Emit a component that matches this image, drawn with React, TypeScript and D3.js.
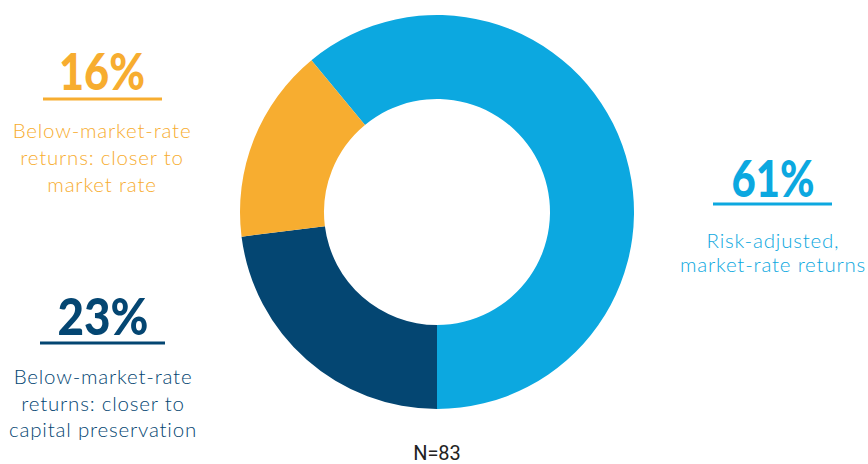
import React from "react";
import * as d3 from "d3";

const categories = [
  "Risk-adjusted, market-rate returns",
  "Below-market-rate returns: closer to capital preservation",
  "Below-market-rate returns: closer to market rate",
];
const values = [61, 23, 16];
const colors = ["#0CA8E0", "#044672", "#F7AD30"];
const pctLabels = ["61%", "23%", "16%"];
const descLines = [
  ["Risk-adjusted,", "market-rate returns"],
  ["Below-market-rate", "returns: closer to", "capital preservation"],
  ["Below-market-rate", "returns: closer to", "market rate"],
];
const footnote = "N=83";

const W = 868;
const H = 464;
const cx = 437;
const cy = 212;
const outerR = 197;
const innerR = 113;

const labelPos = [
  { x: 773, pctY: 197, pctW: 83, lineX1: 713, lineX2: 832, lineY: 204, textY: 248, lh: 24 },
  { x: 103, pctY: 335, pctW: 91, lineX1: 40, lineX2: 165, lineY: 343, textY: 384, lh: 26.5 },
  { x: 102, pctY: 90, pctW: 86, lineX1: 43, lineX2: 162, lineY: 99, textY: 138, lh: 27 },
];

export default function App() {
  const startAngle = -(values[0] / 100) * 2 * Math.PI + Math.PI;
  const pie = d3
    .pie<number>()
    .sort(null)
    .value((d) => d)
    .startAngle(startAngle)
    .endAngle(startAngle + 2 * Math.PI);
  const arcs = pie(values);
  const arc = d3.arc<d3.PieArcDatum<number>>().innerRadius(innerR).outerRadius(outerR);

  return (
    <svg
      width={W}
      height={H}
      style={{ position: "absolute", left: 0, top: 0, background: "#fff" }}
    >
      <g transform={`translate(${cx},${cy})`}>
        {arcs.map((a, i) => (
          <path key={i} d={arc(a) || ""} fill={colors[i]} />
        ))}
      </g>
      {labelPos.map((p, i) => (
        <g key={i} fill={colors[i]}>
          <text
            x={p.x}
            y={p.pctY}
            textAnchor="middle"
            fontFamily="Lato, sans-serif"
            fontWeight={900}
            fontSize={52}
            textLength={p.pctW}
            lengthAdjust="spacingAndGlyphs"
          >
            {pctLabels[i]}
          </text>
          <line
            x1={p.lineX1}
            x2={p.lineX2}
            y1={p.lineY}
            y2={p.lineY}
            stroke={colors[i]}
            strokeWidth={3}
          />
          {descLines[i].map((t, j) => (
            <text
              key={j}
              x={p.x}
              y={p.textY + j * p.lh}
              textAnchor="middle"
              fontFamily="Lato, sans-serif"
              fontWeight={300}
              fontSize={20.5}
              letterSpacing={0.8}
            >
              {t}
            </text>
          ))}
        </g>
      ))}
      <text
        x={cx}
        y={460}
        textAnchor="middle"
        fontFamily="Roboto, sans-serif"
        fontSize={20}
        fill="#222"
      >
        {footnote}
      </text>
    </svg>
  );
}
